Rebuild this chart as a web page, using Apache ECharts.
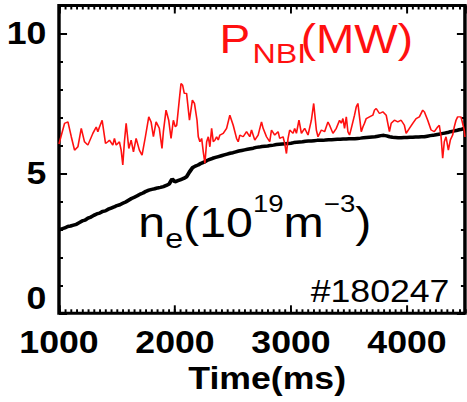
<!DOCTYPE html>
<html><head><meta charset="utf-8">
<script src="https://cdn.jsdelivr.net/npm/echarts@6/dist/echarts.min.js"></script>
<style>
html,body{margin:0;padding:0;background:#fff;overflow:hidden;width:467px;height:402px;}
#c{width:406px;height:402px;transform:scaleX(1.15);transform-origin:0 0;}
</style></head><body><div id="c"></div>
<script>
// ---- data ----
const xTickLabels = ['1000', '2000', '3000', '4000'];
const yTickLabels = ['0', '5', '10'];

const nbiTime = [1000,1005,1048,1077,1106,1134,1163,1192,1220,1249,1292,1321,1335,1349,1372,1401,1421,1435,1464,1478,1493,1521,1536,1550,1564,1579,1602,1622,1642,1665,1693,1716,1745,1774,1794,1814,1837,1865,1888,1900,1923,1946,1966,1986,2003,2015,2037,2052,2066,2080,2100,2125,2150,2168,2190,2201,2215,2230,2244,2258,2273,2287,2301,2316,2330,2344,2359,2373,2387,2416,2445,2473,2502,2531,2545,2559,2588,2617,2645,2660,2688,2717,2746,2760,2789,2817,2832,2860,2889,2903,2932,2946,2961,2975,2989,3018,3032,3047,3069,3090,3118,3147,3176,3196,3219,3233,3262,3290,3319,3333,3362,3391,3419,3434,3448,3462,3477,3491,3505,3520,3548,3563,3577,3591,3606,3620,3634,3649,3677,3706,3720,3735,3763,3792,3821,3849,3864,3892,3921,3950,3978,3993,4021,4050,4079,4107,4136,4150,4179,4208,4236,4265,4279,4294,4308,4322,4337,4357,4374,4394,4408,4423,4437,4466,4494,4500];
const nbiPower = [6.05,6.13,6.79,6.84,6.31,5.83,5.95,6.61,6.13,6.01,6.43,6.66,6.49,6.66,6.9,6.07,6.13,6.19,6.01,6.25,6.01,6.13,5.83,5.3,6.13,6.79,5.89,6.19,5.77,6.25,5.83,5.65,6.31,7.02,6.84,6.31,6.84,6.61,5.89,6.49,7.26,6.9,6.25,6.9,6.66,6.72,7.62,8.21,8.15,7.86,7.86,6.9,7.62,7.5,6.9,6.31,6.13,6.25,5.77,5.36,6.13,6.31,5.95,6.61,6.13,6.19,6.31,6.19,6.37,6.43,6.61,7.08,6.72,6.25,6.13,6.37,6.31,6.49,6.31,6.55,6.19,6.37,6.84,6.61,6.31,6.13,6.55,6.37,6.49,6.25,6.31,6.07,5.71,6.25,6.55,6.43,6.61,6.43,6.9,6.43,6.61,6.37,6.9,7.5,6.55,6.31,6.55,6.49,6.84,6.72,6.43,6.61,6.9,6.79,6.96,6.61,7.02,6.49,6.37,6.61,7.08,7.38,7.5,7.02,6.49,6.66,6.79,6.96,7.02,7.08,7.26,7.32,7.14,7.2,7.08,6.49,6.79,6.9,6.84,6.9,6.72,6.43,6.61,6.79,6.96,7.02,7.26,7.2,6.9,6.55,6.49,6.66,6.72,6.31,5.54,6.13,6.31,5.83,6.19,6.37,6.66,6.9,7.02,7.02,6.55,6.3];

const neStart = 1000, neStep = 25;
const neDensity = [2.98,3.02,3.05,3.10,3.12,3.15,3.18,3.24,3.30,3.33,3.40,3.44,3.50,3.55,3.58,3.64,3.66,3.72,3.76,3.80,3.85,3.88,3.93,3.98,4.04,4.10,4.15,4.20,4.26,4.30,4.36,4.40,4.43,4.45,4.48,4.50,4.53,4.57,4.62,4.80,4.70,4.74,4.78,4.82,4.88,5.05,5.20,5.26,5.30,5.36,5.40,5.46,5.50,5.54,5.57,5.60,5.63,5.66,5.69,5.72,5.74,5.77,5.80,5.82,5.84,5.86,5.88,5.90,5.93,5.94,5.96,5.97,5.98,6.00,6.01,6.03,6.04,6.05,6.06,6.07,6.08,6.10,6.11,6.12,6.13,6.15,6.16,6.16,6.17,6.18,6.18,6.18,6.19,6.20,6.20,6.21,6.22,6.22,6.23,6.23,6.24,6.24,6.24,6.25,6.26,6.27,6.28,6.29,6.30,6.31,6.33,6.35,6.36,6.34,6.31,6.29,6.28,6.27,6.27,6.28,6.28,6.29,6.29,6.30,6.30,6.31,6.31,6.33,6.35,6.36,6.38,6.40,6.42,6.44,6.46,6.49,6.51,6.53,6.56,6.58,6.62];

// ---- build ----
const FONT = '"Liberation Sans", Arial, Helvetica, sans-serif';
const nbiData = nbiTime.map((t, i) => [t, nbiPower[i]]);
const neData = neDensity.map((v, i) => [neStart + i * neStep, v]);

const chart = echarts.init(document.getElementById('c'), null, {renderer: 'svg'});

function xAxisDef(pos, interval, len, labels) {
  return {
    type: 'value', position: pos, min: 1000, max: 4500, interval: interval,
    axisLine: {show: false, onZero: false},
    axisTick: {show: true, inside: true, length: len, lineStyle: {color: '#000', width: 1.7}},
    splitLine: {show: false},
    axisLabel: labels ? {
      show: true, margin: 14, color: '#000', fontSize: 31, fontWeight: 'bold', fontFamily: FONT,
      showMaxLabel: false,
      formatter: v => xTickLabels.indexOf(String(v)) >= 0 ? String(v) : ''
    } : {show: false},
    name: labels ? 'Time(ms)' : '',
    nameLocation: 'middle', nameGap: 36,
    nameTextStyle: {color: '#000', fontSize: 31, fontWeight: 'bold', fontFamily: FONT, padding: [0, 0, 0, 9]}
  };
}
function yAxisDef(pos, interval, len, labels) {
  return {
    type: 'value', position: pos, min: 0, max: 11, interval: interval,
    axisLine: {show: false, onZero: false},
    axisTick: {show: true, inside: true, length: len, lineStyle: {color: '#000', width: 2}},
    splitLine: {show: false},
    axisLabel: labels ? {
      show: true, margin: 11, color: '#000', fontSize: 31, fontWeight: 'bold', fontFamily: FONT,
      showMaxLabel: false,
      formatter: v => {
        const s = String(v);
        if (yTickLabels.indexOf(s) < 0) return '';
        return v === 0 ? '{z|' + s + '}' : s;
      },
      rich: {z: {color: '#000', fontSize: 31, fontWeight: 'bold', fontFamily: FONT, padding: [0, 0, 30, 0]}}
    } : {show: false}
  };
}

const txt = (x, y, text, size, color, align) => ({
  type: 'text', x: x, y: y, z: 10,
  style: {text: text, fontSize: size, fontFamily: FONT, fill: color, align: align || 'left', verticalAlign: 'middle'}
});

chart.setOption({
  animation: false,
  backgroundColor: '#fff',
  grid: {left: 51.3, top: 5.5, width: 353, height: 307.8, containLabel: false, outerBoundsMode: 'none',
         show: true, borderColor: '#000', borderWidth: 3, backgroundColor: 'transparent'},
  xAxis: [xAxisDef('bottom', 1000, 8, true), xAxisDef('bottom', 50, 4, false),
          xAxisDef('top', 1000, 8, false), xAxisDef('top', 50, 4, false)],
  yAxis: [yAxisDef('left', 5, 7, true), yAxisDef('left', 1, 3.5, false),
          yAxisDef('right', 5, 7, false), yAxisDef('right', 1, 3.5, false)],
  series: [
    {type: 'line', name: 'ne', data: neData, xAxisIndex: 0, yAxisIndex: 0, showSymbol: false,
     lineStyle: {color: '#000', width: 3.5}, z: 2},
    {type: 'line', name: 'PNBI', data: nbiData, xAxisIndex: 0, yAxisIndex: 0, showSymbol: false,
     lineStyle: {color: '#ff1010', width: 1.4}, z: 3}
  ],
  graphic: [
    txt(190.8, 39, 'P', 40, '#ff1010'),
    txt(219.6, 53.2, 'NBI', 28, '#ff1010'),
    txt(261.5, 39, '(MW)', 40, '#ff1010'),
    txt(120.2, 222.3, 'n', 42, '#000'),
    txt(143.6, 238.2, 'e', 28, '#000'),
    txt(159.2, 222.3, '(10', 42, '#000'),
    txt(219.9, 203.6, '19', 24, '#000'),
    txt(246.6, 222.3, 'm', 42, '#000'),
    txt(281.6, 203.6, '\u22123', 24, '#000'),
    txt(309, 222.3, ')', 42, '#000'),
    txt(390.8, 291.2, '#180247', 31, '#000', 'right')
  ]
});
</script></body></html>
